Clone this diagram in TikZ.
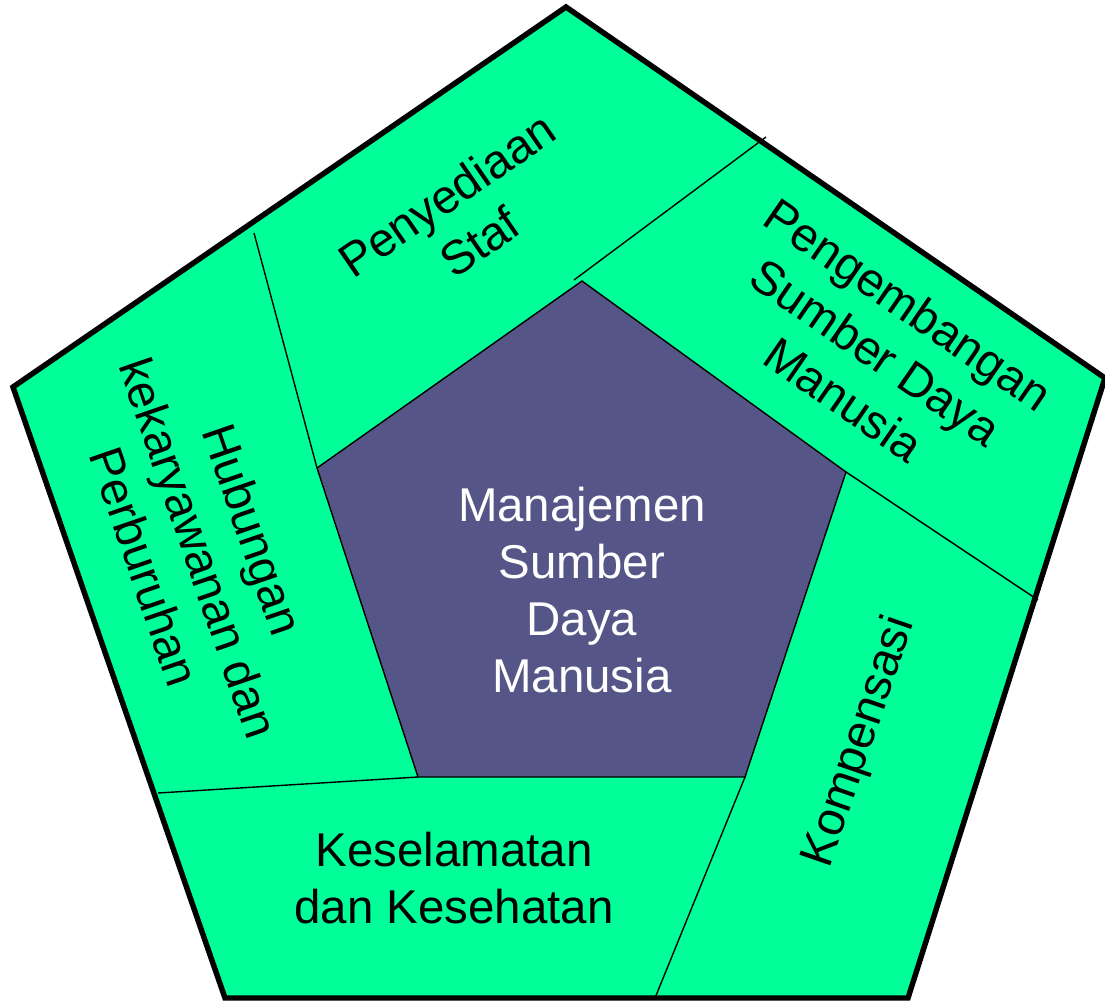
\documentclass[tikz,border=0pt]{standalone}
\usepackage{fontspec}
\setmainfont{Liberation Sans}
\usetikzlibrary{calc}
\definecolor{hijau}{RGB}{0,255,153}
\definecolor{ungu}{RGB}{85,85,136}

\begin{document}
\begin{tikzpicture}[x=0.02cm, y=-0.02cm,
	teks/.style={font=\fontsize{27}{32.6}\selectfont, align=center, text=black},
	sekat/.style={draw=black, line width=0.8pt}]

	\useasboundingbox (0,0) rectangle (1105,1002);

	% 外五边形
	\coordinate (A1) at (566,7);
	\coordinate (A2) at (1105,378);
	\coordinate (A3) at (908,998);
	\coordinate (A4) at (225,998);
	\coordinate (A5) at (13,387);
	\filldraw[fill=hijau, draw=black, line width=3.1pt, line join=miter]
		(A1) -- (A2) -- (A3) -- (A4) -- (A5) -- cycle;

	% 内五边形
	\coordinate (B1) at (582,281);
	\coordinate (B2) at (846,472);
	\coordinate (B3) at (745,777);
	\coordinate (B4) at (418,777);
	\coordinate (B5) at (317,468);
	\filldraw[fill=ungu, sekat] (B1) -- (B2) -- (B3) -- (B4) -- (B5) -- cycle;

	% 分隔线
	\coordinate (S1) at (766,137);
	\coordinate (S2) at (1038,600);
	\coordinate (S3) at (655,998);
	\coordinate (S4) at (158,793);
	\coordinate (S5) at (254,233);
	\draw[sekat] (574,280) -- (S1);
	\draw[sekat] (B2) -- (S2);
	\draw[sekat] (B3) -- (S3);
	\draw[sekat] (B4) -- (S4);
	\draw[sekat] (B5) -- (S5);

	% 文字
	\node[teks, text=white] (pusat) at (582,590) {Manajemen\\Sumber\\Daya\\Manusia};
	\node[teks, rotate=34.5] (staf) at (463,218) {Penyediaan\\Staf};
	\node[teks, rotate=-34.5] (kembang) at (876,352) {Pengembangan\\Sumber Daya\\Manusia};
	\node[teks, rotate=71] (kompensasi) at (860,742) {Kompensasi};
	\node[teks] (selamat) at (454,878) {Keselamatan\\dan Kesehatan};
	\node[teks, rotate=-71] (hubungan) at (199,548) {Hubungan\\kekaryawanan dan\\Perburuhan};

\end{tikzpicture}
\end{document}
